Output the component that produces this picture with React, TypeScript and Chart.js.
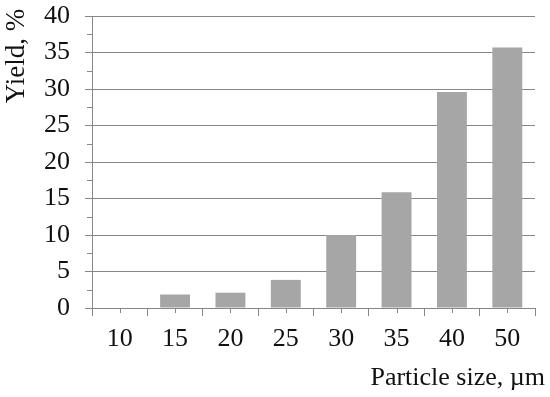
import { useEffect, useRef } from 'react';
import { Chart, registerables } from 'chart.js';

Chart.register(...registerables);

// ---- data ----
const categories = ['10', '15', '20', '25', '30', '35', '40', '50'];
const yieldValues = [0, 1.85, 2.1, 3.85, 10.0, 15.85, 29.6, 35.7];
const minorYTicks = [2.5, 7.5, 12.5, 17.5, 22.5, 27.5, 32.5, 37.5];
const yTitle = 'Yield, %';
const xTitle = 'Particle size, µm';

const FONT = '"Liberation Serif", "Times New Roman", Times, serif';
const AXIS_COLOR = '#878787';
const BAR_COLOR = '#a6a6a6';
const TEXT_COLOR = '#111111';

const decorPlugin = {
  id: 'decor',
  afterDraw(chart: any) {
    const ctx = chart.ctx as CanvasRenderingContext2D;
    const xs = chart.scales.x;
    const ys = chart.scales.y;
    ctx.save();
    ctx.strokeStyle = AXIS_COLOR;
    ctx.lineWidth = 1;
    ctx.beginPath();
    for (const v of minorYTicks) {
      const py = Math.round(ys.getPixelForValue(v)) + 0.5;
      ctx.moveTo(xs.left - 5, py);
      ctx.lineTo(xs.left, py);
    }
    for (let i = 0; i < categories.length; i++) {
      const px = Math.round(xs.getPixelForValue(i)) + 0.5;
      ctx.moveTo(px, ys.bottom);
      ctx.lineTo(px, ys.bottom + 5);
    }
    ctx.stroke();

    ctx.fillStyle = TEXT_COLOR;
    // y title
    ctx.save();
    ctx.font = `27px ${FONT}`;
    ctx.translate(17, 56);
    ctx.rotate(-Math.PI / 2);
    ctx.textAlign = 'center';
    ctx.textBaseline = 'middle';
    ctx.fillText(yTitle, 0, 0);
    ctx.restore();
    // x title
    ctx.font = `26px ${FONT}`;
    ctx.textAlign = 'right';
    ctx.textBaseline = 'middle';
    ctx.fillText(xTitle, 545, 378);
    ctx.restore();
  },
};

export default function App() {
  const canvasRef = useRef<HTMLCanvasElement | null>(null);

  useEffect(() => {
    document.body.style.margin = '0';
    const canvas = canvasRef.current;
    if (!canvas) return;
    const chart = new Chart(canvas, {
      type: 'bar',
      data: {
        labels: categories,
        datasets: [
          {
            data: yieldValues,
            backgroundColor: BAR_COLOR,
            borderWidth: 0,
            barPercentage: 0.54,
            categoryPercentage: 1,
          },
        ],
      },
      options: {
        responsive: false,
        animation: false,
        devicePixelRatio: 1,
        layout: { autoPadding: false, padding: { top: 16, right: 15, left: 0, bottom: 0 } },
        plugins: {
          legend: { display: false },
          tooltip: { enabled: false },
        },
        scales: {
          x: {
            offset: true,
            grid: {
              display: true,
              drawOnChartArea: false,
              offset: true,
              color: AXIS_COLOR,
              tickLength: 8,
              lineWidth: 1,
            },
            border: { display: true, color: AXIS_COLOR, width: 1 },
            ticks: {
              color: TEXT_COLOR,
              font: { family: FONT, size: 26 },
              padding: 8,
              maxRotation: 0,
              autoSkip: false,
            },
            afterFit: (scale: any) => {
              scale.height = 89;
              scale.paddingLeft = 0;
              scale.paddingRight = 0;
            },
          },
          y: {
            min: 0,
            max: 40,
            ticks: {
              stepSize: 5,
              color: TEXT_COLOR,
              font: { family: FONT, size: 26 },
              padding: 15,
            },
            grid: {
              color: AXIS_COLOR,
              lineWidth: 1,
              tickLength: 7,
            },
            border: { display: true, color: AXIS_COLOR, width: 1 },
            afterFit: (scale: any) => {
              scale.width = 92;
              scale.paddingTop = 0;
              scale.paddingBottom = 0;
            },
          },
        },
      },
      plugins: [decorPlugin],
    });
    return () => chart.destroy();
  }, []);

  return (
    <div style={{ width: 550, height: 397 }}>
      <canvas ref={canvasRef} width={550} height={397} style={{ display: 'block' }} />
    </div>
  );
}
